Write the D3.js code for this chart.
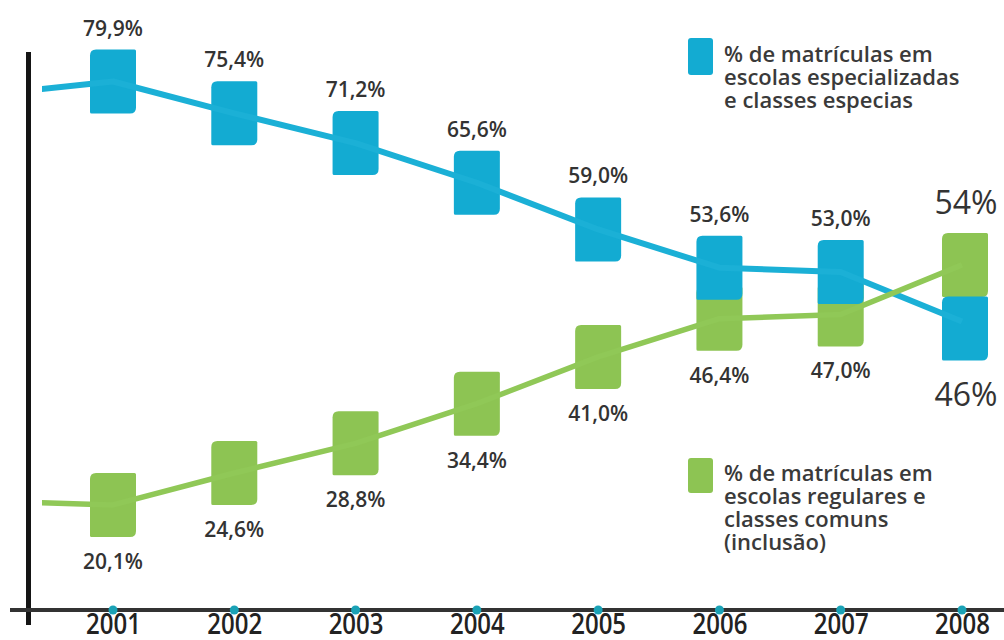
<!DOCTYPE html>
<html>
<head>
<meta charset="utf-8">
<script src="https://cdn.jsdelivr.net/npm/d3@7"></script>
<style>
  body { margin: 0; background: #fff; }
  svg { display: block; font-family: "Open Sans", "Noto Sans", sans-serif; }
</style>
</head>
<body>
<div id="chart"></div>
<script>
// data
var years = [2001, 2002, 2003, 2004, 2005, 2006, 2007, 2008];
var especial = [79.9, 75.4, 71.2, 65.6, 59.0, 53.6, 53.0, 46];
var inclusao = [20.1, 24.6, 28.8, 34.4, 41.0, 46.4, 47.0, 54];
var especialLabels = ["79,9%", "75,4%", "71,2%", "65,6%", "59,0%", "53,6%", "53,0%", "46%"];
var inclusaoLabels = ["20,1%", "24,6%", "28,8%", "34,4%", "41,0%", "46,4%", "47,0%", "54%"];
// where the lines come in from the left edge (year 2000)
var leadYear = 2000;
var leadEspecial = 78.1;
var leadInclusao = 20.6;
var legendEspecial = ["% de matrículas em", "escolas especializadas", "e classes especias"];
var legendInclusao = ["% de matrículas em", "escolas regulares e", "classes comuns", "(inclusão)"];

var w = 1004, h = 640;
var blue = "#13abd2", green = "#8dc453";
var mw = 46, mh = 64;

var svg = d3.select("#chart").append("svg")
  .attr("width", w).attr("height", h);

var xScale = d3.scaleLinear().domain([2001, 2008]).range([113, 962]);
var yScale = d3.scaleLinear().domain([0, 100]).range([647.2, -60.8]);

// axes
svg.append("line")
  .attr("x1", 28.5).attr("x2", 28.5).attr("y1", 52).attr("y2", 625)
  .attr("stroke", "#151515").attr("stroke-width", 5);
svg.append("line")
  .attr("x1", 10).attr("x2", w).attr("y1", 610).attr("y2", 610)
  .attr("stroke", "#333").attr("stroke-width", 4);

var xAxis = d3.axisBottom(xScale).tickValues(years).tickSize(0).tickPadding(0)
  .tickFormat(d3.format("d"));
var gx = svg.append("g").attr("transform", "translate(0,610)").call(xAxis);
gx.select(".domain").remove();
gx.selectAll("text")
  .attr("dy", null).attr("y", 0)
  .attr("transform", "translate(0,24) scale(1,1.18)")
  .attr("fill", "#222")
  .style("font-size", "24px").style("font-weight", 600)
  .style("font-family", "'Open Sans', sans-serif");

svg.selectAll("circle.tick-dot")
  .data(years).enter().append("circle")
  .attr("class", "tick-dot")
  .attr("cx", function(d) { return xScale(d); })
  .attr("cy", 610).attr("r", 4.5)
  .attr("fill", "#1aa2b6");

// markers: rounded top-left and bottom-right corners
function marker(cx, cy) {
  var x0 = cx - mw / 2, y0 = cy - mh / 2, x1 = cx + mw / 2, y1 = cy + mh / 2;
  var r = 6, s = 1.5;
  return "M" + (x0 + r) + "," + y0 +
    "L" + (x1 - s) + "," + y0 + "Q" + x1 + "," + y0 + " " + x1 + "," + (y0 + s) +
    "L" + x1 + "," + (y1 - r) + "Q" + x1 + "," + y1 + " " + (x1 - r) + "," + y1 +
    "L" + (x0 + s) + "," + y1 + "Q" + x0 + "," + y1 + " " + x0 + "," + (y1 - s) +
    "L" + x0 + "," + (y0 + r) + "Q" + x0 + "," + y0 + " " + (x0 + r) + "," + y0 + "Z";
}

var last = years.length - 1;
var lastShift = 7; // last blue box sits just under the green one

svg.selectAll("path.m-inc")
  .data(inclusao).enter().append("path")
  .attr("class", "m-inc")
  .attr("d", function(d, i) { return marker(xScale(years[i]) + (i == last ? 3 : 0), yScale(d)); })
  .attr("fill", green);

svg.selectAll("path.m-esp")
  .data(especial).enter().append("path")
  .attr("class", "m-esp")
  .attr("d", function(d, i) {
    return marker(xScale(years[i]) + (i == last ? 3 : 0), yScale(d) + (i == last ? lastShift : 0));
  })
  .attr("fill", blue);

// lines
svg.append("clipPath").attr("id", "clip")
  .append("rect").attr("x", 42).attr("y", 0).attr("width", w).attr("height", h);

var line = d3.line()
  .x(function(d) { return xScale(d[0]); })
  .y(function(d) { return yScale(d[1]); });

var espPts = [[leadYear, leadEspecial]].concat(years.map(function(y, i) { return [y, especial[i]]; }));
var incPts = [[leadYear, leadInclusao]].concat(years.map(function(y, i) { return [y, inclusao[i]]; }));

svg.append("path").datum(espPts)
  .attr("d", line).attr("clip-path", "url(#clip)")
  .attr("fill", "none").attr("stroke", "#1bb0d6").attr("stroke-width", 6)
  .attr("stroke-linejoin", "round");
svg.append("path").datum(incPts)
  .attr("d", line).attr("clip-path", "url(#clip)")
  .attr("fill", "none").attr("stroke", "#90c857").attr("stroke-width", 5.5)
  .attr("stroke-linejoin", "round");

// value labels
svg.selectAll("text.l-esp")
  .data(especialLabels).enter().append("text")
  .attr("class", "l-esp")
  .attr("text-anchor", "middle")
  .attr("x", function(d, i) { return xScale(years[i]) + (i == last ? 4 : 0); })
  .attr("y", function(d, i) {
    var c = yScale(especial[i]);
    return i == last ? c + lastShift + mh / 2 + 45 : c - mh / 2 - 14;
  })
  .attr("fill", "#333")
  .style("font-size", function(d, i) { return i == last ? "32px" : "21px"; })
  .style("font-weight", function(d, i) { return i == last ? 400 : 600; })
  .text(function(d) { return d; });

svg.selectAll("text.l-inc")
  .data(inclusaoLabels).enter().append("text")
  .attr("class", "l-inc")
  .attr("text-anchor", "middle")
  .attr("x", function(d, i) { return xScale(years[i]) + (i == last ? 4 : 0); })
  .attr("y", function(d, i) {
    var c = yScale(inclusao[i]);
    return i == last ? c - mh / 2 - 19 : c + mh / 2 + 32;
  })
  .attr("fill", "#333")
  .style("font-size", function(d, i) { return i == last ? "32px" : "21px"; })
  .style("font-weight", function(d, i) { return i == last ? 400 : 600; })
  .text(function(d) { return d; });

// legends
function legend(lines, color, sy, sh, by, lh) {
  svg.append("rect")
    .attr("x", 688).attr("y", sy).attr("width", 25).attr("height", sh)
    .attr("rx", 3).attr("fill", color);
  svg.append("g").selectAll("text")
    .data(lines).enter().append("text")
    .attr("x", 724)
    .attr("y", function(d, i) { return by + i * lh; })
    .attr("fill", "#3a3a3a")
    .style("font-size", "22px").style("font-weight", 600)
    .text(function(d) { return d; });
}
legend(legendEspecial, blue, 38, 37, 62, 23);
legend(legendInclusao, green, 458, 35, 481, 23);
</script>
</body>
</html>
